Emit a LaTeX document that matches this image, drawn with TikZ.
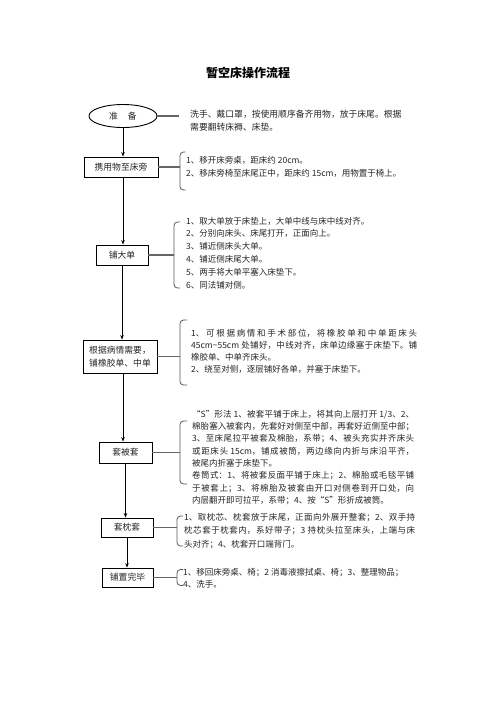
\documentclass[tikz,border=0pt]{standalone}
\usepackage{fontspec}
\setmainfont{Noto Sans CJK SC}
\usetikzlibrary{shapes.geometric,arrows.meta}
\XeTeXlinebreaklocale "zh"
\XeTeXlinebreakskip=0pt plus 1.5pt minus 0.2pt
\newcommand{\descsize}[1]{\fontsize{8.5}{#1}\selectfont}
\begin{document}
\begin{tikzpicture}[x=1pt,y=-1pt,
  box/.style={draw=black, line width=0.9pt, inner sep=0pt, text=black!85,
    font=\fontsize{8.8}{13}\selectfont, align=center},
  desc/.style={anchor=north west, inner sep=0pt, text=black!85, align=left},
  jdesc/.style={anchor=north west, inner sep=0pt, text=black!85, align=justify},
  link/.style={draw=black!60, line width=1.3pt},
  flow/.style={draw=black, line width=0.8pt, -{Stealth[length=4.5pt,width=3.6pt]}},
  brk/.style={draw=black!65, line width=0.8pt, rounded corners=3.5pt}]
\fill[white] (0,0) rectangle (496,702);
\useasboundingbox (0,0) rectangle (496,702);

\node[font=\fontsize{12}{14}\selectfont\bfseries, text=black] (title) at (248,73) {暂空床操作流程};

% left column
\node[ellipse, draw=black, line width=0.9pt, minimum width=68pt, minimum height=23pt,
  inner sep=0pt, text=black!85, font=\fontsize{8.8}{13}\selectfont] (prep) at (123,116) {准\hspace{10pt}备};
\node[box, minimum width=74pt, minimum height=20pt] (b1) at (121,167) {携用物至床旁};
\node[box, minimum width=52pt, minimum height=20pt] (b2) at (122,255) {铺大单};
\node[box, minimum width=74pt, minimum height=33pt] (b3) at (120,356.5) {根据病情需要，\\铺橡胶单、中单};
\node[box, minimum width=53pt, minimum height=21pt] (b4) at (125.5,452.5) {套被套};
\node[box, minimum width=52pt, minimum height=19pt] (b5) at (127,527.5) {套枕套};
\node[box, minimum width=51pt, minimum height=19pt] (b6) at (127.5,577.5) {铺置完毕};

\draw[flow] (prep.south) -- (prep.south |- b1.north);
\draw[flow] ([xshift=2pt]b1.south) -- ([xshift=2pt]b1.south |- b2.north);
\draw[flow] (b2.south) -- (b2.south |- b3.north);
\draw[flow] ([xshift=3pt]b3.south) -- ([xshift=3pt]b3.south |- b4.north);
\draw[flow] (b4.south) -- (b4.south |- b5.north);
\draw[flow] (b5.south) -- (b5.south |- b6.north);

% descriptions
\coordinate (k0) at (179,116);
\draw[link] (prep.east) -- (prep.east -| k0);
\node[desc, font=\fontsize{8.8}{13.5}\selectfont] (t0) at (190,109.6)
  {洗手、戴口罩，按使用顺序备齐用物，放于床尾。根据\\需要翻转床褥、床垫。};

\coordinate (k1) at (180,167);
\draw[brk] (185.5,152) -- (180,152) -- (180,190) -- (185.5,190);
\draw[link] (b1.east) -- (b1.east -| k1);
\node[desc, font=\descsize{13}] (t1) at (186,155.8)
  {1、移开床旁桌，距床约 20cm。\\2、移床旁椅至床尾正中，距床约 15cm，用物置于椅上。};

\coordinate (k2) at (174,255);
\draw[brk] (180,222) -- (174,222) -- (174,288) -- (180,288);
\draw[link] (b2.east) -- (b2.east -| k2);
\node[desc, font=\descsize{12.8}] (t2) at (186,216.8)
  {1、取大单放于床垫上，大单中线与床中线对齐。\\
   2、分别向床头、床尾打开，正面向上。\\
   3、铺近侧床头大单。\\
   4、铺近侧床尾大单。\\
   5、两手将大单平塞入床垫下。\\
   6、同法铺对侧。};

\coordinate (k3) at (180,353);
\draw[brk] (187,320) -- (180,320) -- (180,385) -- (187,385);
\draw[link] (b3.east) -- (b3.east -| k3);
\node[jdesc, text width=226pt, font=\descsize{12}] (t3) at (191,328.8)
  {1、可根据病情和手术部位，将橡胶单和中单距床头\linebreak
   45cm\textasciitilde 55cm 处铺好，中线对齐，床单边缘塞于床垫下。铺\linebreak
   橡胶单、中单齐床头。\\
   2、绕至对侧，逐层铺好各单，并塞于床垫下。};

\coordinate (k4) at (180,452.5);
\draw[brk] (187,421) -- (180,421) -- (180,484) -- (187,484);
\draw[link] (b4.east) -- (b4.east -| k4);
\node[jdesc, text width=222pt, font=\descsize{12.3}] (t4) at (192,409.8)
  {“S”形法 1、被套平铺于床上，将其向上层打开 1/3、2、\linebreak
   棉胎塞入被套内，先套好对侧至中部，再套好近侧至中部；\linebreak
   3、至床尾拉平被套及棉胎，系带；4、被头充实并齐床头\linebreak
   或距床头 15cm，铺成被筒，两边缘向内折与床沿平齐，\linebreak
   被尾内折塞于床垫下。\\
   卷筒式：1、将被套反面平铺于床上；2、棉胎或毛毯平铺\linebreak
   于被套上；3、将棉胎及被套由开口对侧卷到开口处，向\linebreak
   内层翻开即可拉平，系带；4、按“S”形折成被筒。};

\coordinate (k5) at (177,527.5);
\draw[brk] (183,516) -- (177,516) -- (177,546) -- (183,546);
\draw[link] (b5.east) -- (b5.east -| k5);
\node[jdesc, text width=231pt, font=\descsize{13.5}] (t5) at (184,512.8)
  {1、取枕芯、枕套放于床尾，正面向外展开整套；2、双手持\linebreak
   枕芯套于枕套内，系好带子；3 持枕头拉至床头，上端与床\linebreak
   头对齐；4、枕套开口端背门。};

\coordinate (k6) at (177,577.5);
\draw[brk] (183,569.5) -- (177,569.5) -- (177,585.5) -- (183,585.5);
\draw[link] (b6.east) -- (b6.east -| k6);
\node[desc, font=\descsize{12}] (t6) at (183,567.8)
  {1、移回床旁桌、椅；2 消毒液擦拭桌、椅；3、整理物品；\\4、洗手。};
\end{tikzpicture}
\end{document}
